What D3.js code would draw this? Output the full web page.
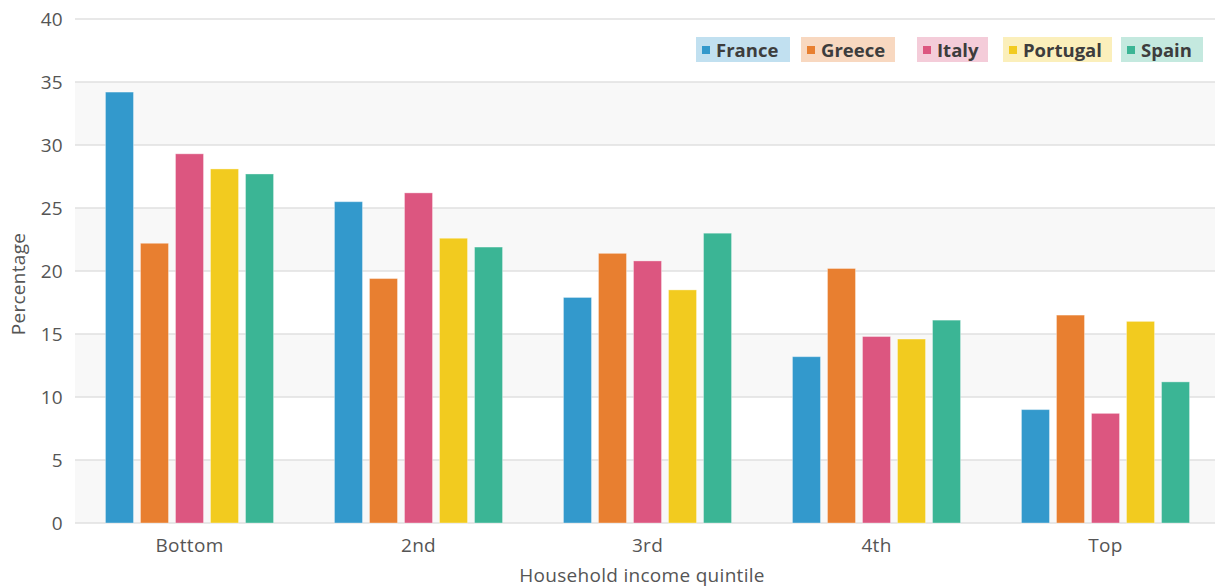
<!DOCTYPE html>
<html>
<head>
<meta charset="utf-8">
<script src="https://cdn.jsdelivr.net/npm/d3@7"></script>
<style>
  html, body { margin: 0; padding: 0; background: #fff; }
  svg { display: block; font-family: "Open Sans", "DejaVu Sans", sans-serif; }
</style>
</head>
<body>
<svg id="chart" width="1215" height="588"></svg>
<script>
// Share of households by income quintile, per country (%)
const quintiles = ["Bottom", "2nd", "3rd", "4th", "Top"];
const countries = ["France", "Greece", "Italy", "Portugal", "Spain"];
const france   = [34.2, 25.5, 17.9, 13.2, 9.0];
const greece   = [22.2, 19.4, 21.4, 20.2, 16.5];
const italy    = [29.3, 26.2, 20.8, 14.8, 8.7];
const portugal = [28.1, 22.6, 18.5, 14.6, 16.0];
const spain    = [27.7, 21.9, 23.0, 16.1, 11.2];
const yTicks = [0, 5, 10, 15, 20, 25, 30, 35, 40];
const colors = ["#3399cc", "#e87f30", "#dc5680", "#f2cb1f", "#3bb595"];

const seriesValues = [france, greece, italy, portugal, spain];

const svg = d3.select("#chart");
const W = 1215, H = 588;
const m = { top: 19, right: 0, bottom: 65, left: 75 };
const plotW = 1145, plotH = H - m.top - m.bottom;
const textFont = "\"Open Sans\", sans-serif";

const x = d3.scaleBand().domain(quintiles).range([m.left, m.left + plotW]).paddingInner(0).paddingOuter(0);
const xi = d3.scaleBand().domain(countries).range([0, x.bandwidth()]).paddingInner(0.2).paddingOuter(0.87);
const y = d3.scaleLinear().domain([0, 40]).range([m.top + plotH, m.top]);

// alternating horizontal bands
const bands = [[0, 5], [10, 15], [20, 25], [30, 35]];
svg.append("g").selectAll("rect").data(bands).join("rect")
  .attr("x", m.left).attr("width", W - m.left)
  .attr("y", d => y(d[1])).attr("height", d => y(d[0]) - y(d[1]))
  .attr("fill", "#f8f8f8");

// gridlines
svg.append("g").selectAll("line").data(yTicks).join("line")
  .attr("x1", m.left).attr("x2", W)
  .attr("y1", d => y(d)).attr("y2", d => y(d))
  .attr("stroke", "#e0e0e0").attr("stroke-width", 1.5);

// y axis labels
const yAxis = svg.append("g").attr("transform", `translate(${m.left},0)`)
  .call(d3.axisLeft(y).tickValues(yTicks).tickSize(0).tickPadding(12));
yAxis.select(".domain").remove();
yAxis.selectAll("text").attr("font-size", 19).attr("fill", "#555")
  .attr("font-family", textFont).attr("letter-spacing", 0.3);

// x axis labels
const xAxis = svg.append("g").attr("transform", `translate(0,${y(0)})`)
  .call(d3.axisBottom(x).tickSize(0).tickPadding(16));
xAxis.select(".domain").remove();
xAxis.selectAll("text").attr("font-size", 19).attr("fill", "#555")
  .attr("font-family", textFont).attr("letter-spacing", 0.3);

// bars
const groups = svg.append("g").selectAll("g").data(quintiles).join("g")
  .attr("transform", d => `translate(${x(d)},0)`);
groups.selectAll("rect")
  .data((q, qi) => countries.map((c, ci) => ({ c, ci, v: seriesValues[ci][qi] })))
  .join("rect")
  .attr("x", d => xi(d.c))
  .attr("width", xi.bandwidth())
  .attr("y", d => y(d.v))
  .attr("height", d => y(0) - y(d.v))
  .attr("fill", d => colors[d.ci])
  .attr("stroke", "rgba(255,255,255,0.35)")
  .attr("stroke-width", 1);

// axis titles
svg.append("text").attr("x", 642).attr("y", 582).attr("text-anchor", "middle")
  .attr("font-size", 19).attr("letter-spacing", 0.3).attr("fill", "#555")
  .text("Household income quintile");
svg.append("text").attr("transform", "translate(25,284) rotate(-90)")
  .attr("text-anchor", "middle").attr("font-size", 19).attr("letter-spacing", 0.3)
  .attr("fill", "#555").text("Percentage");

// legend
const legendBoxes = [[696, 94], [801, 94], [917, 71], [1003, 109], [1121, 82]];
const legend = svg.append("g").selectAll("g").data(countries).join("g")
  .attr("transform", (d, i) => `translate(${legendBoxes[i][0]},37)`);
legend.append("rect").attr("width", (d, i) => legendBoxes[i][1]).attr("height", 25)
  .attr("fill", (d, i) => colors[i]).attr("fill-opacity", 0.3);
legend.append("rect").attr("x", 6).attr("y", 9).attr("width", 8).attr("height", 8)
  .attr("fill", (d, i) => colors[i]);
legend.append("text").attr("x", 20).attr("y", 19.5).attr("font-size", 18.5)
  .attr("font-weight", "bold").attr("fill", "#3d3d3d").text(d => d);
</script>
</body>
</html>
